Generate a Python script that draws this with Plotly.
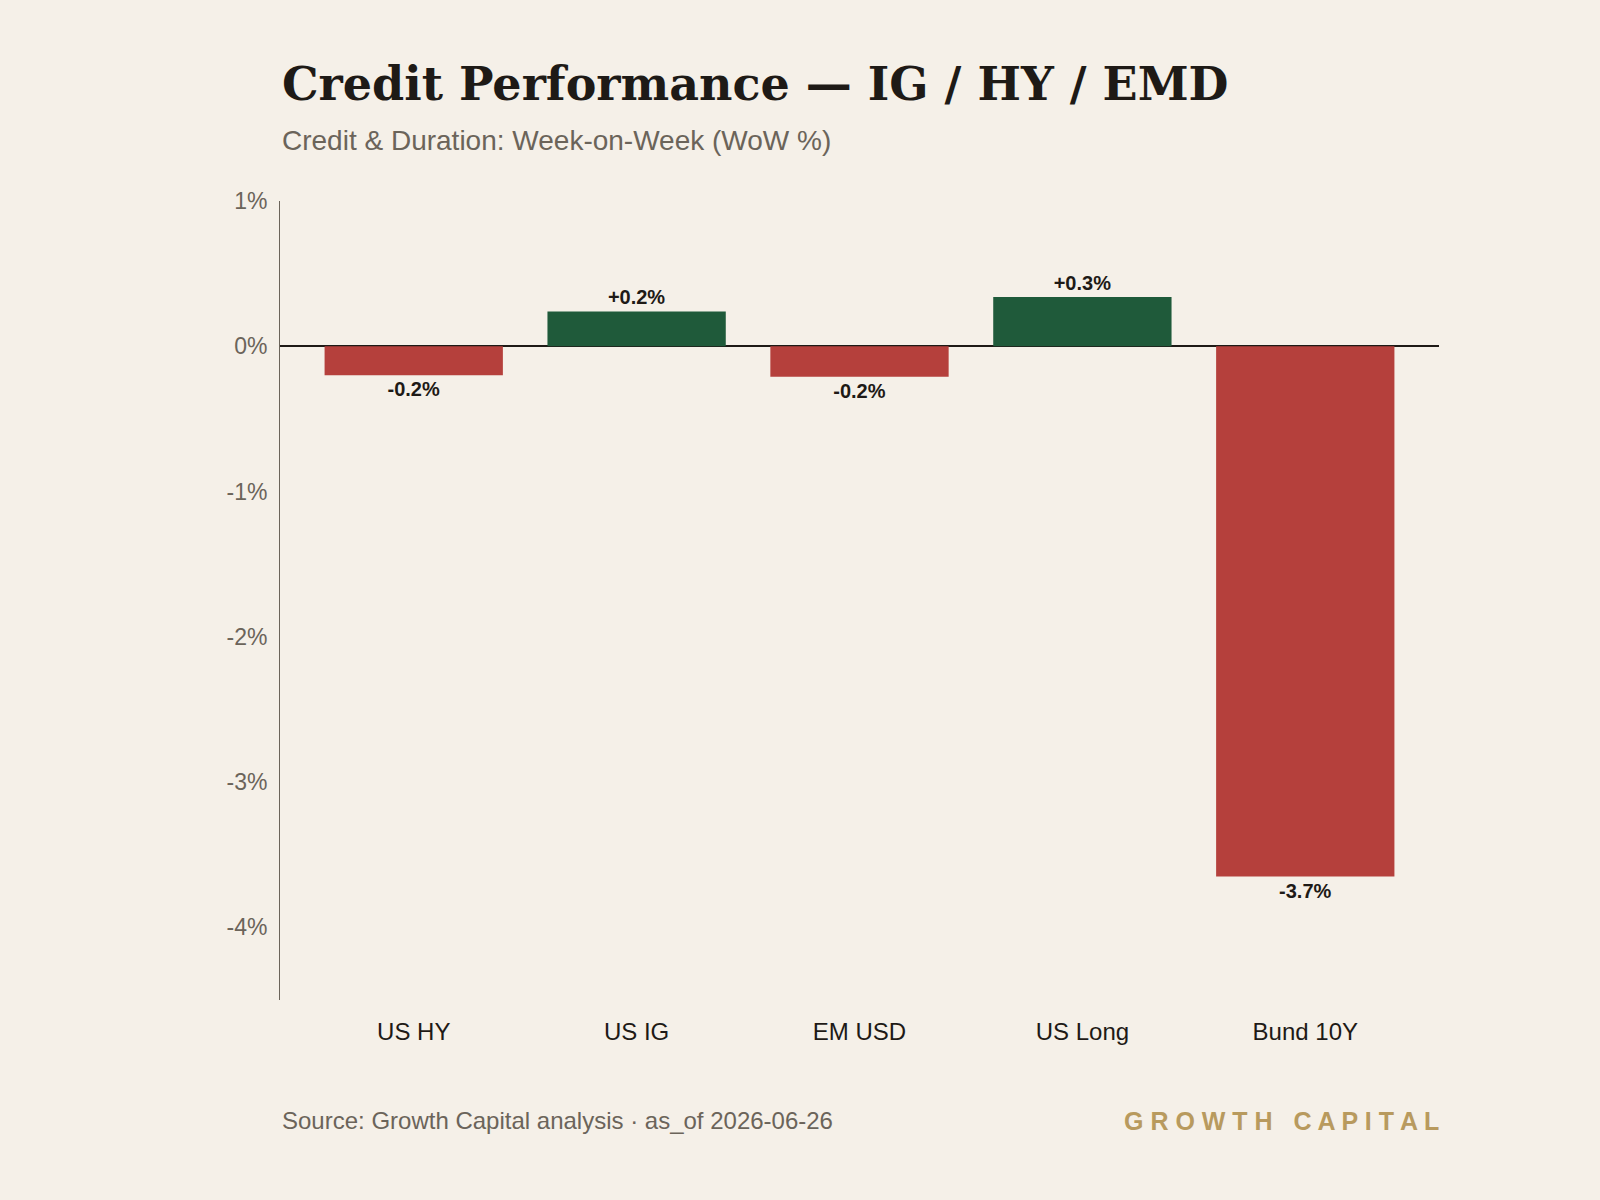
import plotly.graph_objects as go

categories = ["US HY", "US IG", "EM USD", "US Long", "Bund 10Y"]
values = [-0.20, 0.24, -0.21, 0.34, -3.65]
labels = ["-0.2%", "+0.2%", "-0.2%", "+0.3%", "-3.7%"]
y_ticks = [1, 0, -1, -2, -3, -4]
y_tick_text = ["1%", "0%", "-1%", "-2%", "-3%", "-4%"]

RED = "#B5403C"
GREEN = "#1F5A3A"
BG = "#F5F0E8"
INK = "#1E1A16"
GRAY = "#6B645A"
GOLD = "#B89A5E"
SANS = "Helvetica, Arial, Liberation Sans, sans-serif"
SERIF = "Georgia, DejaVu Serif, serif"

colors = [GREEN if v >= 0 else RED for v in values]

fig = go.Figure()
fig.add_trace(go.Bar(
    x=list(range(len(categories))), y=values,
    marker=dict(color=colors, line=dict(width=0)),
    text=labels, textposition="outside",
    textfont=dict(family=SANS, size=20, color=INK, weight="bold"),
    cliponaxis=False, hoverinfo="skip",
))

fig.update_layout(
    width=1600, height=1200,
    paper_bgcolor=BG, plot_bgcolor=BG,
    margin=dict(l=280, r=161, t=201, b=200),
    showlegend=False,
    bargap=0.2,
    xaxis=dict(
        range=[-0.6, 4.6],
        tickmode="array", tickvals=list(range(len(categories))), ticktext=categories,
        tickfont=dict(family=SANS, size=24, color=INK),
        showgrid=False, zeroline=False, showline=False,
        ticks="outside", ticklen=10, tickcolor="rgba(0,0,0,0)",
    ),
    yaxis=dict(
        range=[-4.5, 1],
        tickmode="array", tickvals=y_ticks, ticktext=y_tick_text,
        tickfont=dict(family=SANS, size=23, color=GRAY),
        showgrid=False, zeroline=True, zerolinecolor=INK, zerolinewidth=1.5,
        showline=True, linecolor=GRAY, linewidth=1,
        ticks="outside", ticklen=7, tickcolor="rgba(0,0,0,0)",
    ),
    annotations=[
        dict(text="<b>Credit Performance — IG / HY / EMD</b>", xref="paper", yref="paper",
             x=0, y=1.1464, xanchor="left", yanchor="middle", showarrow=False,
             font=dict(family=SERIF, size=46, color=INK)),
        dict(text="Credit & Duration: Week-on-Week (WoW %)", xref="paper", yref="paper",
             x=0, y=1.0763, xanchor="left", yanchor="middle", showarrow=False,
             font=dict(family=SANS, size=28, color=GRAY)),
        dict(text="Source: Growth Capital analysis · as_of 2026-06-26", xref="paper", yref="paper",
             x=0, y=-0.1514, xanchor="left", yanchor="middle", showarrow=False,
             font=dict(family=SANS, size=24, color=GRAY)),
        dict(text="<b>G R O W T H   C A P I T A L</b>", xref="paper", yref="paper",
             x=1.0017, y=-0.1514, xanchor="right", yanchor="middle", showarrow=False,
             font=dict(family=SANS, size=25, color=GOLD)),
    ],
)

fig.write_html("out.html")
